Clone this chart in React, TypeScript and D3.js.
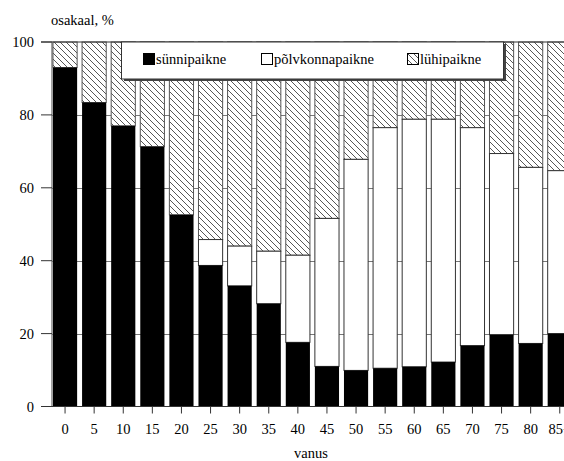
import { useEffect, useRef } from "react";
import * as d3 from "d3";

const ages = ["0", "5", "10", "15", "20", "25", "30", "35", "40", "45", "50", "55", "60", "65", "70", "75", "80", "85+"];
// sünnipaikne share, %
const birthPlace = [93.0, 83.4, 77.0, 71.3, 52.6, 38.7, 33.1, 28.2, 17.6, 11.0, 9.9, 10.5, 10.9, 12.2, 16.7, 19.7, 17.3, 20.0];
// sünnipaikne + põlvkonnapaikne (cumulative top of white part)
const generationTop = [93.0, 83.4, 77.0, 71.3, 52.6, 45.8, 44.0, 42.6, 41.5, 51.6, 67.8, 76.5, 78.8, 78.8, 76.5, 69.4, 65.6, 64.7];
const yTicks = [0, 20, 40, 60, 80, 100];
const legendLabels = ["sünnipaikne", "põlvkonnapaikne", "lühipaikne"];

function App() {
  const svgRef = useRef<SVGSVGElement | null>(null);

  useEffect(() => {
    const width = 564;
    const height = 461;
    const font = "Liberation Serif";

    const svg = d3.select(svgRef.current)
      .attr("width", width)
      .attr("height", height)
      .attr("font-family", font)
      .attr("font-size", 14.5);
    svg.selectAll("*").remove();

    const defs = svg.append("defs");
    const pat = defs.append("pattern")
      .attr("id", "hatch")
      .attr("patternUnits", "userSpaceOnUse")
      .attr("width", 6)
      .attr("height", 6);
    pat.append("rect").attr("width", 6).attr("height", 6).attr("fill", "#fff");
    pat.append("path")
      .attr("d", "M0,0 L6,6 M-1,5 L1,7 M5,-1 L7,1")
      .attr("stroke", "#444")
      .attr("stroke-width", 0.9);

    const x = d3.scaleBand()
      .domain(ages)
      .range([50.5, 574.3])
      .paddingInner(0.17)
      .paddingOuter(0.085);

    const y = d3.scaleLinear().domain([0, 100]).range([406.5, 42]);

    // gridlines
    svg.append("g")
      .selectAll("line")
      .data(yTicks.filter(t => t > 0 && t < 100))
      .enter()
      .append("line")
      .attr("x1", 52)
      .attr("x2", width)
      .attr("y1", d => Math.round(y(d)) + 0.5)
      .attr("y2", d => Math.round(y(d)) + 0.5)
      .attr("stroke", "#777")
      .attr("stroke-width", 1);

    const rows = ages.map((a, i) => ({ age: a, b: birthPlace[i], g: generationTop[i] }));

    const bars = svg.append("g");
    // hatched (lühipaikne) part
    bars.selectAll(".hatch")
      .data(rows)
      .enter()
      .append("rect")
      .attr("x", d => x(d.age)!)
      .attr("width", x.bandwidth())
      .attr("y", y(100))
      .attr("height", d => y(d.g) - y(100))
      .attr("fill", "url(#hatch)")
      .attr("stroke", "#555")
      .attr("stroke-width", 1);
    // white (põlvkonnapaikne) part
    bars.selectAll(".white")
      .data(rows)
      .enter()
      .append("rect")
      .attr("x", d => x(d.age)!)
      .attr("width", x.bandwidth())
      .attr("y", d => y(d.g))
      .attr("height", d => y(d.b) - y(d.g))
      .attr("fill", "#fff")
      .attr("stroke", "#333")
      .attr("stroke-width", 1);
    // black (sünnipaikne) part
    bars.selectAll(".black")
      .data(rows)
      .enter()
      .append("rect")
      .attr("x", d => x(d.age)!)
      .attr("width", x.bandwidth())
      .attr("y", d => y(d.b))
      .attr("height", d => y(0) - y(d.b))
      .attr("fill", "#000");

    // top frame line
    svg.append("line")
      .attr("x1", 41).attr("x2", width)
      .attr("y1", y(100)).attr("y2", y(100))
      .attr("stroke", "#333").attr("stroke-width", 1.2);

    // y axis
    svg.append("line")
      .attr("x1", 52).attr("x2", 52)
      .attr("y1", y(100)).attr("y2", y(0))
      .attr("stroke", "#666").attr("stroke-width", 1.2);
    svg.append("line")
      .attr("x1", 41).attr("x2", width)
      .attr("y1", y(0)).attr("y2", y(0))
      .attr("stroke", "#333").attr("stroke-width", 1.2);

    const yAxis = svg.append("g");
    yAxis.selectAll("line")
      .data(yTicks)
      .enter()
      .append("line")
      .attr("x1", 41).attr("x2", 52)
      .attr("y1", d => y(d)).attr("y2", d => y(d))
      .attr("stroke", "#333");
    yAxis.selectAll("text")
      .data(yTicks)
      .enter()
      .append("text")
      .attr("x", 34)
      .attr("y", d => y(d) + 5)
      .attr("text-anchor", "end")
      .text(d => d);

    // x axis
    const xAxis = svg.append("g");
    xAxis.selectAll("line")
      .data(ages)
      .enter()
      .append("line")
      .attr("x1", d => x(d)! + x.bandwidth() / 2)
      .attr("x2", d => x(d)! + x.bandwidth() / 2)
      .attr("y1", y(0)).attr("y2", y(0) + 7)
      .attr("stroke", "#333");
    xAxis.selectAll("text")
      .data(ages)
      .enter()
      .append("text")
      .attr("x", d => x(d)! + x.bandwidth() / 2)
      .attr("y", 434)
      .attr("text-anchor", "middle")
      .text(d => d);

    svg.append("text")
      .attr("x", 311).attr("y", 458)
      .attr("text-anchor", "middle")
      .text("vanus");

    svg.append("text")
      .attr("x", 51).attr("y", 25)
      .text("osakaal, %");

    // legend
    const legend = svg.append("g");
    legend.append("rect")
      .attr("x", 124).attr("y", 44)
      .attr("width", 382).attr("height", 37)
      .attr("fill", "#444");
    legend.append("rect")
      .attr("x", 121.5).attr("y", 42)
      .attr("width", 382).attr("height", 37)
      .attr("fill", "#fff")
      .attr("stroke", "#333");

    const legendX = [143, 261, 407];
    const legendFill = ["#000", "#fff", "url(#hatch)"];
    const items = legend.selectAll(".legend-item")
      .data(legendLabels)
      .enter()
      .append("g")
      .attr("class", "legend-item")
      .attr("transform", (_, i) => `translate(${legendX[i]}, 53)`);
    items.append("rect")
      .attr("x", 0.5).attr("y", 0.5)
      .attr("width", 11).attr("height", 11)
      .attr("fill", (_, i) => legendFill[i])
      .attr("stroke", "#000");
    items.append("text")
      .attr("x", 13)
      .attr("y", 11)
      .text(d => d);
  }, []);

  return (
    <div style={{ position: "absolute", left: 0, top: 0, background: "#fff" }}>
      <svg ref={svgRef} width={564} height={461} style={{ display: "block" }}></svg>
    </div>
  );
}

export default App;
